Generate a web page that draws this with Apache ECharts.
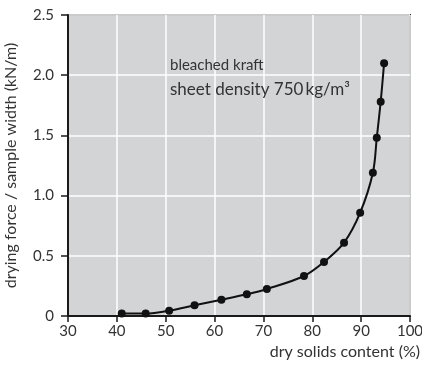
<!DOCTYPE html>
<html>
<head>
<meta charset="utf-8">
<script src="https://cdn.jsdelivr.net/npm/echarts@6/dist/echarts.min.js"></script>
<style>
  html, body { margin: 0; padding: 0; background: #ffffff; }
  #chart { width: 422px; height: 366px; }
</style>
</head>
<body>
<div id="chart"></div>
<script>
// Dry solids content (%) and the measured drying force per sample width (kN/m)
var drySolids = [41.0, 45.9, 50.7, 55.9, 61.4, 66.6, 70.7, 78.3, 82.4, 86.5, 89.8, 92.4, 93.2, 94.0, 94.7];
var dryingForce = [0.02, 0.02, 0.044, 0.09, 0.135, 0.18, 0.224, 0.332, 0.449, 0.609, 0.858, 1.19, 1.48, 1.78, 2.10];

var xTicks = [30, 40, 50, 60, 70, 80, 90, 100];
var yTicks = [0, 0.5, 1.0, 1.5, 2.0, 2.5];
var yTickLabels = ['0', '0.5', '1.0', '1.5', '2.0', '2.5'];

var noteLines = ['bleached kraft', 'sheet density 750\u2009kg/m\u00b3'];

var points = drySolids.map(function (x, i) { return [x, dryingForce[i]]; });
var font = 'Lato, "Open Sans", sans-serif';
var textColor = '#333333';

var chart = echarts.init(document.getElementById('chart'), null, { renderer: 'canvas' });
chart.setOption({
  animation: false,
  backgroundColor: '#ffffff',
  grid: {
    left: 68, right: 12, top: 15, bottom: 50,
    containLabel: false,
    outerBoundsMode: 'none',
    show: true,
    backgroundColor: '#d3d4d6',
    borderColor: '#333333',
    borderWidth: 2
  },
  xAxis: {
    type: 'value',
    min: xTicks[0], max: xTicks[xTicks.length - 1], interval: 10,
    name: 'dry solids content (%)',
    nameLocation: 'end',
    nameGap: 10,
    nameTextStyle: {
      fontFamily: font, fontSize: 16, color: textColor,
      align: 'right', verticalAlign: 'top', padding: [28, 0, 0, 0]
    },
    axisLine: { show: true, lineStyle: { color: '#1a1a1a', width: 2 } },
    axisTick: { show: true, length: 6, lineStyle: { color: '#1a1a1a', width: 1.5 } },
    axisLabel: { fontFamily: font, fontSize: 15, color: textColor, margin: 8 },
    splitLine: { show: true, lineStyle: { color: '#ffffff', width: 1.5 } }
  },
  yAxis: {
    type: 'value',
    min: yTicks[0], max: yTicks[yTicks.length - 1], interval: 0.5,
    name: 'drying force / sample width (kN/m)',
    nameLocation: 'middle',
    nameGap: 49,
    nameTextStyle: { fontFamily: font, fontSize: 16, color: textColor },
    axisLine: { show: true, lineStyle: { color: '#1a1a1a', width: 2 } },
    axisTick: { show: true, length: 7, lineStyle: { color: '#1a1a1a', width: 1.5 } },
    axisLabel: {
      fontFamily: font, fontSize: 15, color: textColor, margin: 14,
      formatter: function (v) {
        var i = yTicks.indexOf(v);
        return i >= 0 ? yTickLabels[i] : '';
      }
    },
    splitLine: { show: true, lineStyle: { color: '#ffffff', width: 1.5 } }
  },
  graphic: [
    {
      type: 'text', left: 170, top: 58, z: 100,
      style: { text: noteLines[0], font: '15px ' + font, fill: textColor }
    },
    {
      type: 'text', left: 170, top: 81, z: 100,
      style: { text: noteLines[1], font: '17px ' + font, fill: textColor }
    }
  ],
  series: [{
    type: 'line',
    data: points,
    smooth: 0.35,
    symbol: 'circle',
    symbolSize: 8,
    showSymbol: true,
    lineStyle: { color: '#111111', width: 2 },
    itemStyle: { color: '#111111' },
    z: 5
  }]
});
</script>
</body>
</html>
